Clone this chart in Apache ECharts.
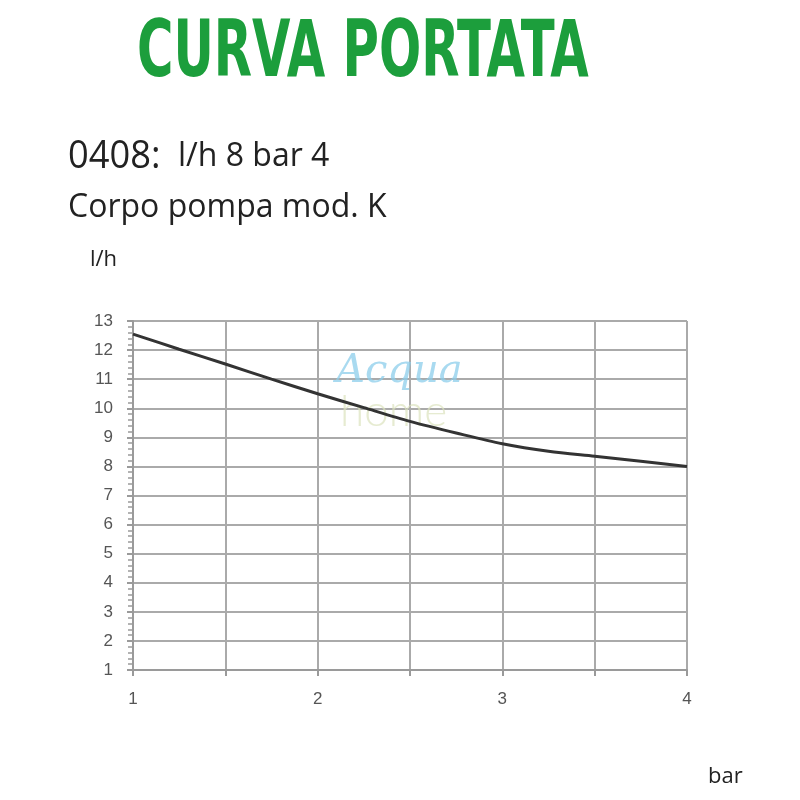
<!DOCTYPE html>
<html>
<head>
<meta charset="utf-8">
<script src="https://cdn.jsdelivr.net/npm/echarts@6/dist/echarts.min.js"></script>
<style>html,body{margin:0;padding:0;background:#fff}#c{width:800px;height:800px}</style>
</head>
<body>
<div id="c"></div>
<script>
// Data (pressure in bar, flow in l/h)
const pressureBar = [1, 1.25, 1.5, 1.75, 2, 2.25, 2.5, 2.75, 3, 3.25, 3.5, 3.75, 4];
const flowLh = [12.55, 12.03, 11.52, 11.0, 10.5, 10.02, 9.55, 9.15, 8.78, 8.52, 8.35, 8.18, 8.0];
const xTickLabels = ['1', '2', '3', '4'];
const yTickLabels = ['1','2','3','4','5','6','7','8','9','10','11','12','13'];

const chart = echarts.init(document.getElementById('c'), null, {renderer: 'canvas'});
const seriesData = pressureBar.map((p, i) => [p, flowLh[i]]);

chart.setOption({
  backgroundColor: '#fff',
  animation: false,
  grid: {left: 133, right: 113, top: 321, bottom: 130},
  xAxis: {
    type: 'value', min: 1, max: 4, interval: 0.5,
    axisLine: {show: true, lineStyle: {color: '#9a9a9a', width: 2}},
    axisTick: {show: true, length: 6, lineStyle: {color: '#9a9a9a', width: 2}},
    splitLine: {show: true, lineStyle: {color: '#aaaaaa', width: 2}},
    axisLabel: {
      margin: 21, color: '#555', fontSize: 17, fontFamily: 'Liberation Sans, Arial, sans-serif',
      formatter: v => (Number.isInteger(v) && xTickLabels.includes(String(v))) ? String(v) : ''
    }
  },
  yAxis: {
    type: 'value', min: 1, max: 13, interval: 1,
    axisLine: {show: true, lineStyle: {color: '#9a9a9a', width: 2}},
    axisTick: {show: true, length: 6, lineStyle: {color: '#9a9a9a', width: 2}},
    minorTick: {show: true, splitNumber: 5, length: 5, lineStyle: {color: '#9a9a9a', width: 1.5}},
    splitLine: {show: true, lineStyle: {color: '#aaaaaa', width: 2}},
    axisLabel: {
      margin: 20, color: '#555', fontSize: 17, fontFamily: 'Liberation Sans, Arial, sans-serif',
      formatter: v => yTickLabels.includes(String(v)) ? String(v) : ''
    }
  },
  series: [{
    type: 'line', data: seriesData, smooth: 0.3, showSymbol: false,
    lineStyle: {color: '#333', width: 3}, z: 5
  }],
  graphic: [
    {type: 'text', left: 137, top: 17, scaleX: 0.708, style: {
      text: 'CURVA PORTATA', fill: '#1c9e3c',
      font: 'bold 78px "Liberation Sans Narrow", "DejaVu Sans Condensed", sans-serif'}},
    {type: 'text', left: 68, top: 137, scaleX: 0.93, style: {
      text: '0408:', fill: '#222', font: '39px "Open Sans", sans-serif'}},
    {type: 'text', left: 178, top: 141, style: {
      text: 'l/h 8 bar 4', fill: '#222', font: '32px "Open Sans", sans-serif'}},
    {type: 'text', left: 68, top: 191, scaleX: 0.97, style: {
      text: 'Corpo pompa mod. K', fill: '#222',
      font: '33px "Open Sans", sans-serif'}},
    {type: 'text', left: 90, top: 249, style: {
      text: 'l/h', fill: '#222', font: '22px "Open Sans", sans-serif'}},
    {type: 'text', left: 708, top: 766, style: {
      text: 'bar', fill: '#222', font: '22px "Open Sans", sans-serif'}},
    {type: 'text', left: 336, top: 352, z: 1, style: {
      text: 'Acqua', fill: 'rgba(140,205,235,0.75)',
      font: 'italic 40px "DejaVu Serif", serif'}},
    {type: 'text', left: 340, top: 390, z: 1, style: {
      text: 'home', fill: 'rgba(220,226,190,0.7)',
      font: '300 44px Lato, sans-serif'}}
  ]
});
</script>
</body>
</html>
